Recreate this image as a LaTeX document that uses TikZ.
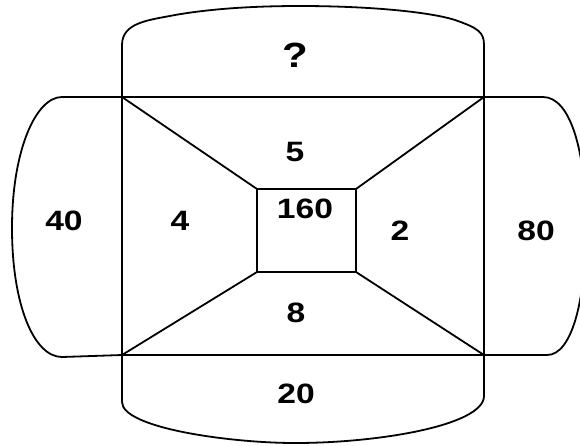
\documentclass[tikz,border=0pt]{standalone}
\usepackage{fontspec}
\setmainfont{Liberation Sans}
\newfontfamily\labfont[FakeStretch=1.2]{Liberation Sans}
\begin{document}
\begin{tikzpicture}[x=1pt,y=-1pt,line width=1.8pt,line join=round,line cap=round,
  lab/.style={font=\labfont\bfseries\fontsize{28}{28}\selectfont,inner sep=0pt},
  bigq/.style={font=\labfont\bfseries\fontsize{35}{35}\selectfont,inner sep=0pt},
  box/.style={draw,rectangle,minimum width=99pt,minimum height=83pt,inner sep=0pt,outer sep=0pt}]
\clip (0,0) rectangle (580,445);
\coordinate (A) at (122,97);
\coordinate (B) at (484,97);
\coordinate (C) at (484,355);
\coordinate (D) at (122,355);
\node[box] (sq) at (306.5,230.5) {};
% main rectangle
\draw (A) -- (B) -- (C) -- (D) -- cycle;
% diagonals
\draw (A) -- (sq.north west);
\draw (B) -- (sq.north east);
\draw (C) -- (sq.south east);
\draw (D) -- (sq.south west);
% top cap
\draw (A) -- (122,45) .. controls (122,22) and (150,20) .. (175,15)
      .. controls (215,8) and (260,6) .. (300,6)
      .. controls (370,6) and (430,12) .. (455,20)
      .. controls (478,28) and (484,32) .. (484,45) -- (B);
% bottom cap
\draw (D) -- (122,402) .. controls (122,428) and (230,443) .. (295,443)
      .. controls (380,443) and (484,425) .. (484,396) -- (C);
% left cap
\draw (A) -- (62,97) .. controls (36,97) and (12,150) .. (12,228)
      .. controls (12,305) and (34,357) .. (62,357) -- (D);
% right cap
\draw (B) -- (543,97) .. controls (570,97) and (586,150) .. (586,225)
      .. controls (586,300) and (572,355) .. (547,355) -- (C);
% labels
\node[bigq] (q) at (295,55) {?};
\node[lab] (l5) at (295,152) {5};
\node[lab] (l40) at (64,221) {40};
\node[lab] (l4) at (180,221) {4};
\node[lab] (l160) at (305,209) {160};
\node[lab] (l2) at (400,231) {2};
\node[lab] (l80) at (536,231) {80};
\node[lab] (l8) at (296,313) {8};
\node[lab] (l20) at (296,394) {20};
\end{tikzpicture}
\end{document}
